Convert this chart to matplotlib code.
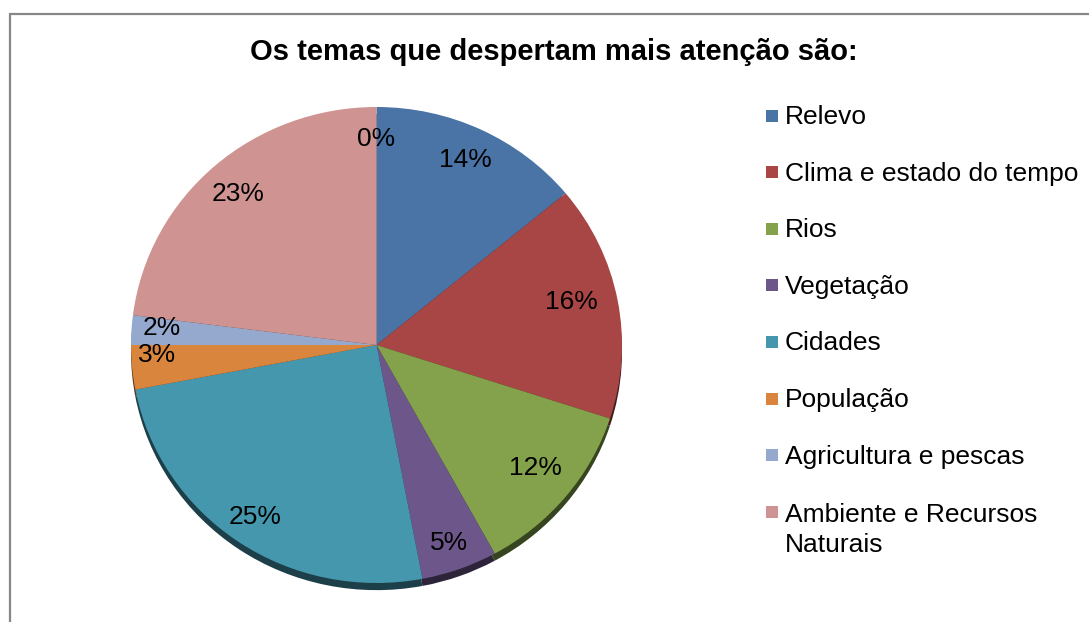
import matplotlib.pyplot as plt
from matplotlib.patches import Rectangle
from matplotlib.colors import to_rgb

plt.rcParams['font.family'] = ['Liberation Sans', 'DejaVu Sans']

# dados do grafico
titulo = "Os temas que despertam mais atenção são:"
categorias = ["Relevo", "Clima e estado do tempo", "Rios", "Vegetação", "Cidades",
              "População", "Agricultura e pescas", "Ambiente e Recursos\nNaturais"]
percentagens = [14, 16, 12, 5, 25, 3, 2, 23, 0]   # ultima fatia vazia (0%)
cores = ["#4A73A6", "#A74644", "#84A24B", "#6D5689", "#4597AD",
         "#DA853E", "#95A9CF", "#CF9392", "#CF9392"]

W, H = 1089, 622
fig = plt.figure(figsize=(W / 100, H / 100), dpi=100)

# camada de fundo em pixeis (moldura, titulo, legenda)
lax = fig.add_axes([0, 0, 1, 1])
lax.set_xlim(0, W)
lax.set_ylim(H, 0)
lax.axis('off')
lax.plot([9.5, 9.5, W + 5], [H + 5, 13.5, 13.5], color='#878787', lw=1.6,
         solid_joinstyle='miter')

lax.text(554, 52, titulo, ha='center', va='center', fontsize=21, fontweight='bold')

# legenda manual (marcador alinhado com a primeira linha)
y0, dy, passo = 124, 56.6, 32
for i, (cat, c) in enumerate(zip(categorias, cores)):
    yb = y0 + i * dy
    n = cat.count('\n')
    lax.add_patch(Rectangle((766, yb - 14.5), 12, 12, facecolor=c, edgecolor='none'))
    # matplotlib alinha a baseline pela ultima linha
    lax.text(785, yb + n * passo, cat, ha='left', va='baseline', fontsize=19,
             linespacing=1.33)

# pie
ax = fig.add_axes([131 / W, (H - 583) / H, 491 / W, 476 / H])

# rebordo escuro (efeito 3D)
escuras = [tuple(0.42 * v for v in to_rgb(c)) for c in cores]
rim, _ = ax.pie(percentagens, colors=escuras, startangle=90, counterclock=False,
                center=(0, -0.03), wedgeprops=dict(linewidth=0))
for w in rim:
    w.set_clip_on(False)

wedges, texts, autotexts = ax.pie(percentagens, colors=cores, startangle=90,
                                  counterclock=False, autopct='%1.0f%%',
                                  pctdistance=0.83,
                                  wedgeprops=dict(linewidth=0),
                                  textprops=dict(fontsize=19, color='black'))
for w in wedges:
    w.set_clip_on(False)

# pequenos ajustes (em pixeis) das etiquetas, como no Excel
ajustes = {0: (2, 10), 1: (-5, 10), 2: (2, 13), 3: (3, 28), 4: (-7, 25),
           5: (23, 0), 6: (28, 7), 7: (-4, 14), 8: (0, 8)}
for i, t in enumerate(autotexts):
    x, y = t.get_position()
    ddx, ddy = ajustes.get(i, (0, 0))
    if percentagens[i] in (2, 3):
        x, y = x * 1.08, y * 1.08 + 0.01
        ddx, ddy = ddx - 23, ddy - 8
    else:
        y += 0.035
        ddy -= 8
    t.set_position((x + ddx / 245.5, y - ddy / 238))

ax.set_aspect('auto')
ax.set_xlim(-1, 1)
ax.set_ylim(-1, 1)

fig.savefig('out.png', dpi=100)
